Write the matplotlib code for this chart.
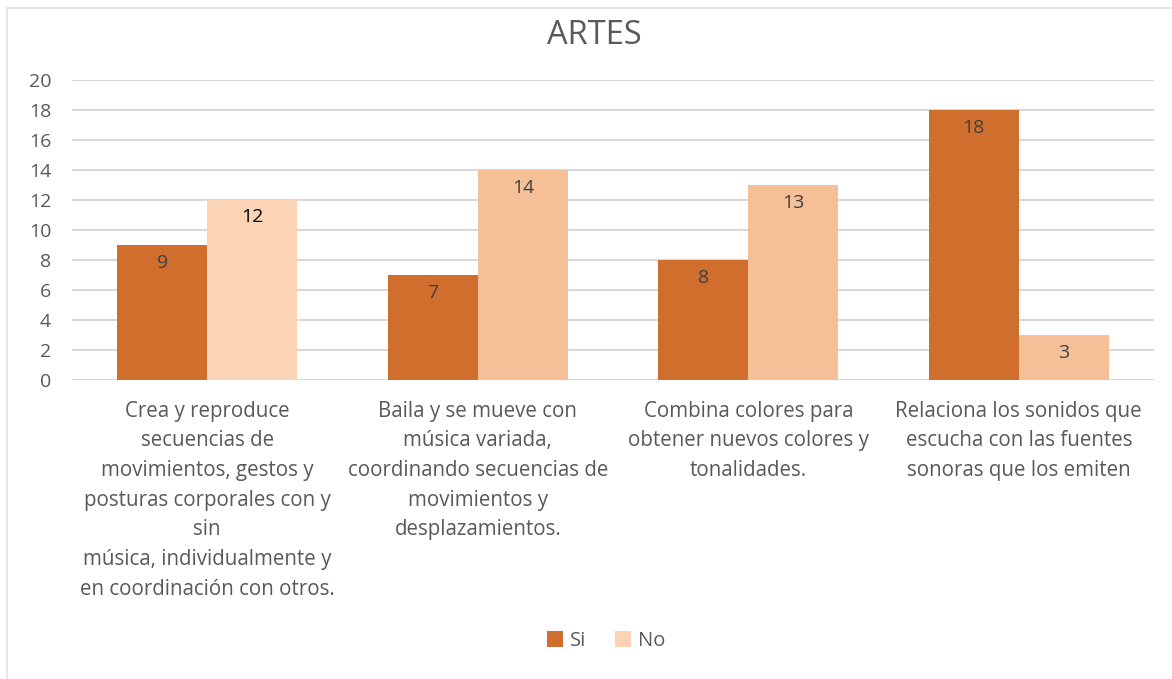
import matplotlib.pyplot as plt
from matplotlib.lines import Line2D
import numpy as np

plt.rcParams['font.family'] = ['Open Sans', 'DejaVu Sans']

categorias = [
    "Crea y reproduce\nsecuencias de\nmovimientos, gestos y\nposturas corporales con y\nsin\nmúsica, individualmente y\nen coordinación con otros.",
    "Baila y se mueve con\nmúsica variada,\ncoordinando secuencias de\nmovimientos y\ndesplazamientos.",
    "Combina colores para\nobtener nuevos colores y\ntonalidades.",
    "Relaciona los sonidos que\nescucha con las fuentes\nsonoras que los emiten",
]
si = [9, 7, 8, 18]
no = [12, 14, 13, 3]

color_si = '#D06F2D'
color_no = '#F5BF97'
color_no_first = '#FAD4B4'

fig = plt.figure(figsize=(11.72, 6.79), dpi=100)
W, H = 1172, 679
ax = fig.add_axes([72 / W, (H - 380) / H, (1154 - 72) / W, 300 / H])

ind = np.arange(len(categorias))
width = 1 / 3

si_bars = ax.bar(ind - width / 2, si, width, color=color_si, label='Si', zorder=3)
no_bars = ax.bar(ind + width / 2, no, width, color=color_no, label='No', zorder=3)
no_bars[0].set_facecolor(color_no_first)

for b, v in zip(si_bars, si):
    ax.text(b.get_x() + b.get_width() / 2, v - 0.6, str(v), ha='center', va='top',
            fontsize=14, color='#404040', zorder=4)
for i, (b, v) in enumerate(zip(no_bars, no)):
    if i == 0:
        ax.text(b.get_x() + b.get_width() / 2, v - 0.55, str(v), ha='center', va='top',
                fontsize=14, color='black', zorder=4)
    else:
        ax.text(b.get_x() + b.get_width() / 2, v - 0.6, str(v), ha='center', va='top',
                fontsize=14, color='#404040', zorder=4)

ax.set_xlim(-0.5, len(categorias) - 0.5)
ax.set_ylim(0, 20)
ax.set_yticks(np.arange(0, 21, 2))
ax.yaxis.grid(True, color='#D9D9D9', linewidth=1.5, zorder=0)
ax.set_axisbelow(True)
for s in ax.spines.values():
    s.set_visible(False)
ax.tick_params(axis='both', length=0, colors='#595959', labelsize=14.8)
ax.tick_params(axis='y', pad=15, labelsize=14)
ax.tick_params(axis='x', pad=15)
ax.set_xticks(ind)
ax.set_xticklabels(categorias, linespacing=1.54, va='top')

fig.text(594 / W, 1 - 35 / H, 'ARTES', ha='center', va='center', fontsize=23.5, color='#595959')

leg = fig.legend(loc='center', bbox_to_anchor=(606 / W, 1 - 641 / H), ncol=2, frameon=False,
                 fontsize=14.5, handlelength=0.8, handleheight=0.8, handletextpad=0.35,
                 columnspacing=1.4)
for t in leg.get_texts():
    t.set_color('#595959')

fig.add_artist(Line2D([7 / W, 7 / W], [0, 1 - 8 / H], color='#E0E0E0', linewidth=1.2))
fig.add_artist(Line2D([7 / W, 1], [1 - 8 / H, 1 - 8 / H], color='#E0E0E0', linewidth=1.2))

fig.savefig('out.png', dpi=100)
